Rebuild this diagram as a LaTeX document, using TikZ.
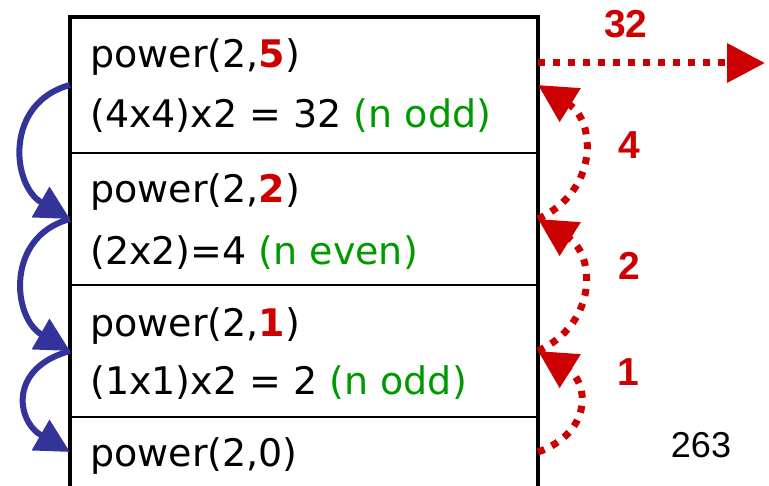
\documentclass[tikz,border=0pt]{standalone}
\usepackage{fontspec}
\setmainfont{DejaVu Sans}
\newfontfamily\labfont{Liberation Sans}
\usetikzlibrary{arrows.meta}
\definecolor{rred}{HTML}{CC0000}
\definecolor{gg}{HTML}{009900}
\definecolor{bb}{HTML}{333399}
\begin{document}
\begin{tikzpicture}[x=1pt,y=1pt,
  frame/.style={draw, line width=2.2pt, minimum width=468pt, inner sep=0pt, outer sep=0pt},
  txt/.style={anchor=base west, inner sep=0pt, font=\fontsize{38}{40}\selectfont},
  call/.style={draw=bb, line width=6pt, -{Triangle[length=34pt,width=34pt]}},
  ret/.style={draw=rred, line width=7pt, dash pattern=on 7pt off 8pt, -{Triangle[length=38pt,width=38pt]}},
  lab/.style={text=rred, font=\labfont\bfseries\fontsize{39}{40}\selectfont, inner sep=0pt}]
\useasboundingbox (0,0) rectangle (769,485);
\node[frame, minimum height=136pt] (f1) at (304,400) {};
\node[frame, minimum height=132pt] (f2) at (304,266) {};
\node[frame, minimum height=132pt] (f3) at (304,134) {};
\node[frame, minimum height=70pt] (f4) at (304,33) {};
\draw[line width=4.5pt] (f4.south west) -- (f1.north west) -- (f1.north east) -- (f4.south east);

\node[txt] (t1a) at (90,417) {power(2,\textcolor{rred}{\bfseries 5})};
\node[txt] (t1b) at (90,357) {(4x4)x2 = 32 \textcolor{gg}{(n odd)}};
\node[txt] (t2a) at (90,282) {power(2,\textcolor{rred}{\bfseries 2})};
\node[txt] (t2b) at (90,220) {(2x2)=4 \textcolor{gg}{(n even)}};
\node[txt] (t3a) at (90,148) {power(2,\textcolor{rred}{\bfseries 1})};
\node[txt] (t3b) at (90,90) {(1x1)x2 = 2 \textcolor{gg}{(n odd)}};
\node[txt] (t4a) at (90,18) {power(2,0)};

\draw[call] (f1.west) to[out=195,in=150,looseness=1.3] (f2.west);
\draw[call] (f2.west) to[out=195,in=150,looseness=1.3] (f3.west);
\draw[call] (f3.west) to[out=195,in=150,looseness=1.6] (f4.west);

\coordinate (res) at (765,422);
\draw[ret] ([yshift=22pt]f1.east) -- (res);
\draw[ret] (f2.east) to[out=25,in=-32,looseness=1.3] (f1.east);
\draw[ret] (f3.east) to[out=25,in=-32,looseness=1.3] (f2.east);
\draw[ret] (f4.east) to[out=20,in=-32,looseness=1.5] (f3.east);

\node[lab] (l32) at (626,461) {32};
\node[lab] (l4) at (629,340) {4};
\node[lab] (l2) at (629,219) {2};
\node[lab] (l1) at (628,113) {1};
\node[inner sep=0pt, font=\labfont\fontsize{36}{38}\selectfont] (pg) at (701,40) {263};
\end{tikzpicture}
\end{document}
